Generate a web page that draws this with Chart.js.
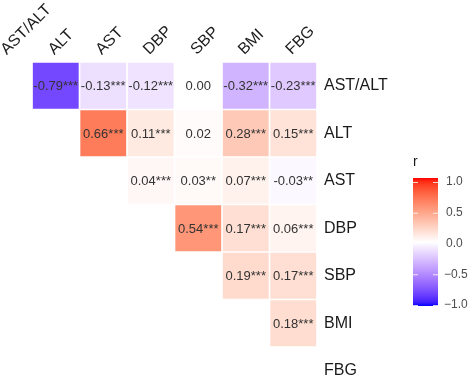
<!DOCTYPE html>
<html>
<head>
<meta charset="utf-8">
<script src="https://cdn.jsdelivr.net/npm/chart.js@4/dist/chart.umd.min.js"></script>
<style>
html,body{margin:0;padding:0;background:#fff;}
#wrap{width:474px;height:381px;position:relative;}
</style>
</head>
<body>
<div id="wrap"><canvas id="c"></canvas></div>
<script>
// ---- data ----
const rowLabels = ['AST/ALT','ALT','AST','DBP','SBP','BMI','FBG'];
const colLabels = ['AST/ALT','ALT','AST','DBP','SBP','BMI','FBG'];
// correlations of each row with the columns to its right (upper triangle)
const rAST_ALT = [-0.79,-0.13,-0.12,0.00,-0.32,-0.23];
const rALT     = [0.66,0.11,0.02,0.28,0.15];
const rAST     = [0.04,0.03,0.07,-0.03];
const rDBP     = [0.54,0.17,0.06];
const rSBP     = [0.19,0.17];
const rBMI     = [0.18];
const sAST_ALT = ['***','***','***','','***','***'];
const sALT     = ['***','***','','***','***'];
const sAST     = ['***','**','***','**'];
const sDBP     = ['***','***','***'];
const sSBP     = ['***','***'];
const sBMI     = ['***'];
const legendTicks = [1.0,0.5,0.0,-0.5,-1.0];

const rowValues = [rAST_ALT,rALT,rAST,rDBP,rSBP,rBMI,[]];
const rowSig = [sAST_ALT,sALT,sAST,sDBP,sSBP,sBMI,[]];

// ---- colour (Lab interpolation blue-white-red) ----
function s2l(c){c/=255;return c<=0.04045?c/12.92:Math.pow((c+0.055)/1.055,2.4);}
function l2s(c){c=c<=0.0031308?12.92*c:1.055*Math.pow(c,1/2.4)-0.055;return Math.round(Math.max(0,Math.min(1,c))*255);}
function rgb2lab(rgb){
  const r=s2l(rgb[0]),g=s2l(rgb[1]),b=s2l(rgb[2]);
  const x=(r*0.4124564+g*0.3575761+b*0.1804375)/0.95047;
  const y=(r*0.2126729+g*0.7151522+b*0.0721750);
  const z=(r*0.0193339+g*0.1191920+b*0.9503041)/1.08883;
  const f=t=>t>0.008856?Math.cbrt(t):(7.787*t+16/116);
  const fx=f(x),fy=f(y),fz=f(z);
  return [116*fy-16,500*(fx-fy),200*(fy-fz)];
}
function lab2rgb(lab){
  const fy=(lab[0]+16)/116, fx=fy+lab[1]/500, fz=fy-lab[2]/200;
  const fi=t=>{const t3=t*t*t;return t3>0.008856?t3:(t-16/116)/7.787;};
  const x=fi(fx)*0.95047,y=fi(fy),z=fi(fz)*1.08883;
  const r=x*3.2404542-y*1.5371385-z*0.4985314;
  const g=-x*0.9692660+y*1.8760108+z*0.0415560;
  const b=x*0.0556434-y*0.2040259+z*1.0572252;
  return [l2s(r),l2s(g),l2s(b)];
}
const LW=rgb2lab([255,255,255]), LB=rgb2lab([0,0,255]), LR=rgb2lab([255,0,0]);
function fillFor(v){
  const t=Math.min(1,Math.abs(v)); const end=v<0?LB:LR;
  const lab=[0,1,2].map(i=>LW[i]+(end[i]-LW[i])*t);
  const c=lab2rgb(lab);
  return 'rgb('+c[0]+','+c[1]+','+c[2]+')';
}

// ---- build cells ----
const cells=[];
rowValues.forEach((vals,r)=>{
  vals.forEach((v,k)=>{
    const c=r+1+k;
    cells.push({x:c,y:[r-0.485,r+0.485],v:v,sig:rowSig[r][k]});
  });
});

const FONT='"Liberation Sans", Arial, Helvetica, sans-serif';

const cellText={
  id:'cellText',
  afterDatasetsDraw(chart){
    const ctx=chart.ctx; const meta=chart.getDatasetMeta(0);
    ctx.save();
    ctx.font='13px '+FONT; ctx.fillStyle='#333333';
    ctx.textAlign='center'; ctx.textBaseline='middle';
    meta.data.forEach((el,i)=>{
      const d=cells[i];
      const ys=chart.scales.y;
      const yc=ys.getPixelForValue((d.y[0]+d.y[1])/2);
      ctx.fillText(d.v.toFixed(2)+d.sig, el.x, yc+1);
    });
    ctx.restore();
  }
};

const colorbar={
  id:'colorbar',
  afterDraw(chart){
    const ctx=chart.ctx;
    const x0=413,x1=438,y0=178,y1=306;
    ctx.save();
    ctx.font='14px '+FONT; ctx.fillStyle='#1a1a1a';
    ctx.textAlign='left'; ctx.textBaseline='middle';
    ctx.fillText('r', x0, 162);
    const g=ctx.createLinearGradient(0,y0,0,y1);
    for(let i=0;i<=40;i++){const v=1-2*i/40; g.addColorStop(i/40, fillFor(v));}
    ctx.fillStyle=g; ctx.fillRect(x0,y0,x1-x0,y1-y0);
    ctx.font='12px '+FONT; ctx.fillStyle='#4d4d4d';
    const top=182, bot=305;
    legendTicks.forEach(t=>{
      const y=top+(1-t)/2*(bot-top);
      ctx.strokeStyle='rgba(255,255,255,0.8)'; ctx.lineWidth=1;
      ctx.beginPath(); ctx.moveTo(x0,y+0.5); ctx.lineTo(x0+5,y+0.5);
      ctx.moveTo(x1-5,y+0.5); ctx.lineTo(x1,y+0.5); ctx.stroke();
      const s=(t<0?'\u2212':'')+Math.abs(t).toFixed(1);
      ctx.fillText(s, t<0?444:446, y);
    });
    ctx.restore();
  }
};

new Chart(document.getElementById('c'),{
  type:'bar',
  data:{datasets:[{
    data:cells,
    backgroundColor:cells.map(d=>fillFor(d.v)),
    borderWidth:0,
    barPercentage:0.965,
    categoryPercentage:1
  }]},
  options:{
    responsive:true, maintainAspectRatio:false, animation:false,
    layout:{padding:0},
    plugins:{legend:{display:false},tooltip:{enabled:false}},
    scales:{
      x:{type:'linear',position:'top',min:-0.174,max:6.5,offset:false,
        grid:{display:false,drawTicks:false,offset:false},border:{display:false},
        ticks:{stepSize:1,includeBounds:false,autoSkip:false,minRotation:45,maxRotation:45,
          padding:3,labelOffset:9,color:'#1a1a1a',font:{family:FONT,size:16},
          callback:v=>colLabels[v]},
        afterFit:s=>{s.height=62;s.paddingLeft=0;s.paddingRight=0;}
      },
      y:{type:'linear',position:'right',reverse:true,min:-0.5,max:6.216,
        grid:{display:false,drawTicks:false},border:{display:false},
        ticks:{stepSize:1,includeBounds:false,autoSkip:false,padding:7,
          color:'#1a1a1a',font:{family:FONT,size:16},
          callback:v=>rowLabels[v]},
        afterFit:s=>{s.width=157;s.paddingTop=0;s.paddingBottom=0;}
      }
    }
  },
  plugins:[cellText,colorbar]
});
</script>
</body>
</html>
